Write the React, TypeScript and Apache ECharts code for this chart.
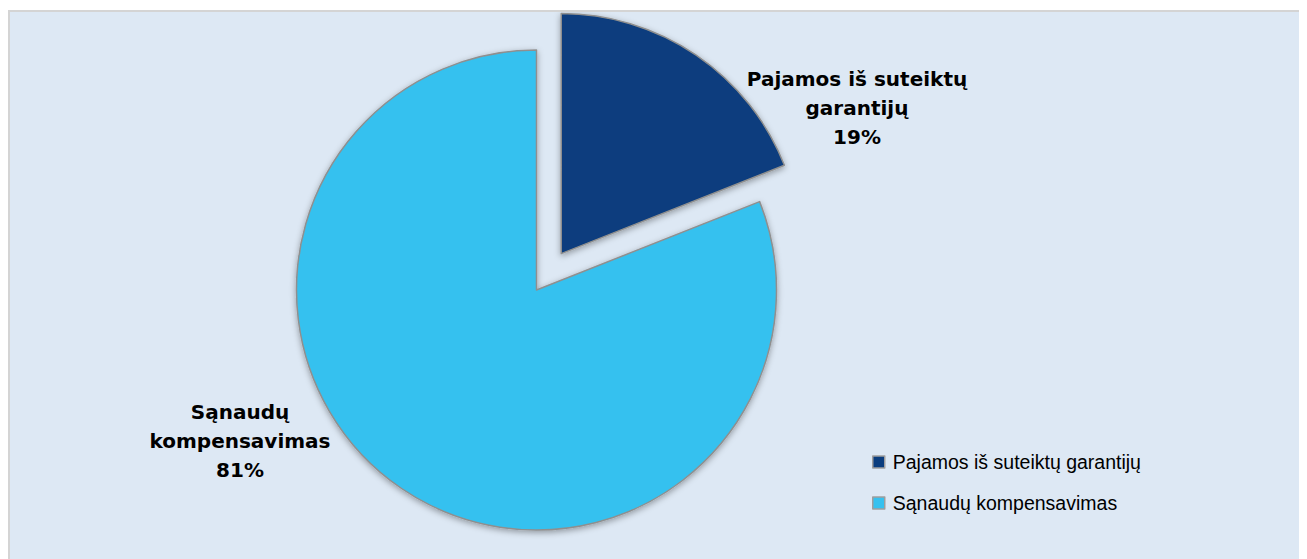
import React, { useEffect, useRef } from "react";
import * as echarts from "echarts";

const categories = ["Pajamos iš suteiktų garantijų", "Sąnaudų kompensavimas"];
const labelNames = ["Pajamos iš suteiktų\ngarantijų", "Sąnaudų\nkompensavimas"];
const values = [19, 81];
const colors = ["#0A3D7E", "#36C1EF"];

const CENTER = [526.5, 278];
const RADIUS = 240;
const EXPLODE = 44;
const LABEL_POS = [
  [847, 96],
  [230, 429],
];

export default function App() {
  const ref = useRef<HTMLDivElement>(null);

  useEffect(() => {
    document.body.style.overflow = "hidden";
    const chart = echarts.init(ref.current!, null, { renderer: "svg" });
    const total = values.reduce((a, b) => a + b, 0);
    const midDeg = 90 - ((values[0] / total) * 360) / 2;
    const mid = (midDeg * Math.PI) / 180;
    const explodedCenter = [
      CENTER[0] + EXPLODE * Math.cos(mid),
      CENTER[1] - EXPLODE * Math.sin(mid),
    ];

    const baseStyle = {
      borderColor: "#8f8f8f",
      borderWidth: 1.5,
      shadowBlur: 6,
      shadowOffsetY: 2,
      shadowColor: "rgba(0,0,0,0.35)",
    };
    const hidden = {
      color: "transparent",
      borderWidth: 0,
      shadowBlur: 0,
      shadowColor: "transparent",
    };

    const makeSeries = (visibleIndex: number, center: number[]) => ({
      type: "pie",
      center,
      radius: RADIUS,
      startAngle: 90,
      clockwise: true,
      silent: true,
      percentPrecision: 0,
      emphasis: { disabled: true },
      label: {
        show: true,
        position: "outside",
        fontFamily: "DejaVu Sans, sans-serif",
        fontWeight: "bold",
        fontSize: 20,
        lineHeight: 29,
        color: "#000",
        align: "center",
        formatter: (p: any) => `${labelNames[p.dataIndex]}\n${p.percent}%`,
      },
      labelLine: { show: false },
      labelLayout: (p: any) => ({
        x: LABEL_POS[p.dataIndex][0],
        y: LABEL_POS[p.dataIndex][1],
        align: "center",
        verticalAlign: "middle",
      }),
      data: categories.map((name, i) => ({
        name,
        value: values[i],
        itemStyle: i === visibleIndex ? { ...baseStyle, color: colors[i] } : hidden,
        label: { show: i === visibleIndex },
      })),
    });

    chart.setOption({
      animation: false,
      backgroundColor: "transparent",
      legend: {
        orient: "vertical",
        left: 857,
        top: 434,
        itemWidth: 12,
        itemHeight: 12,
        itemGap: 19,
        icon: "rect",
        selectedMode: false,
        textStyle: {
          fontFamily: "Liberation Sans, Arial, sans-serif",
          fontSize: 19.5,
          lineHeight: 22,
          color: "#000",
          padding: [0, 0, 0, 3],
        },
        data: categories.map((name, i) => ({
          name,
          itemStyle: { color: colors[i], borderColor: "#9e9e9e", borderWidth: 1.5 },
        })),
      },
      series: [makeSeries(1, CENTER), makeSeries(0, explodedCenter)],
    });
    return () => chart.dispose();
  }, []);

  return (
    <div
      style={{
        position: "relative",
        top: 2,
        width: 1299,
        height: 551,
        boxSizing: "border-box",
        background: "#DDE8F4",
        borderTop: "2px solid #d4d4d4",
        borderLeft: "2px solid #d4d4d4",
      }}
    >
      <div ref={ref} style={{ width: 1297, height: 549 }} />
    </div>
  );
}
